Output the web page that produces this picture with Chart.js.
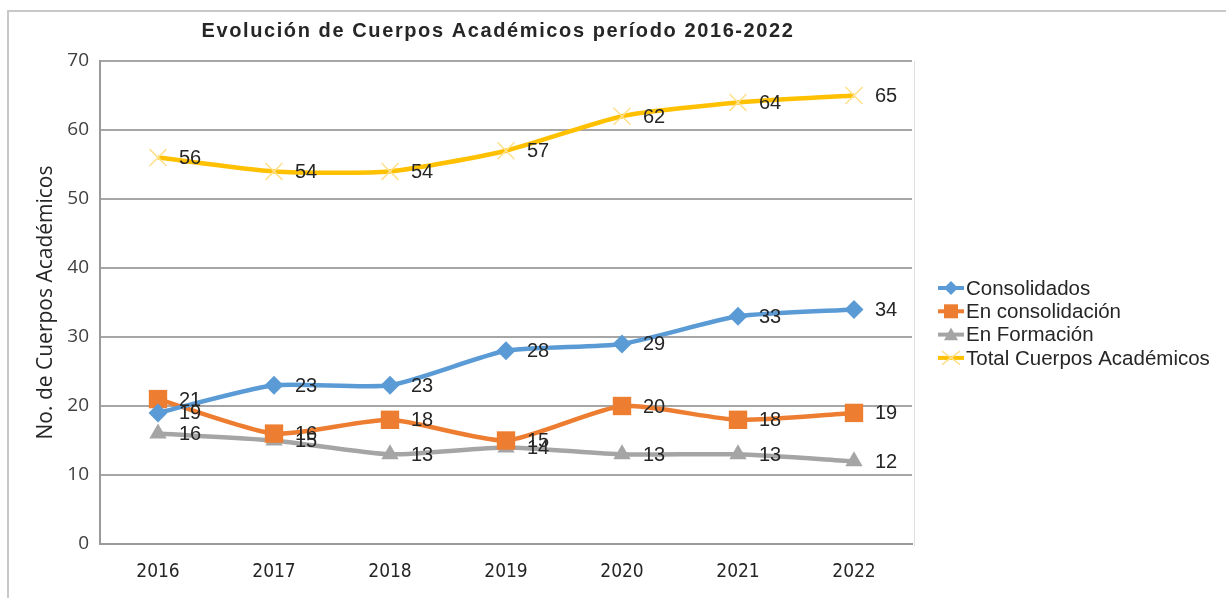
<!DOCTYPE html>
<html>
<head>
<meta charset="utf-8">
<script src="https://cdn.jsdelivr.net/npm/chart.js@4"></script>
<style>
html,body{margin:0;padding:0;background:#fff;}
#wrap{position:absolute;left:0;top:0;width:1226px;height:598px;}
</style>
</head>
<body>
<div id="wrap"><canvas id="c" width="1226" height="598"></canvas></div>
<script>
const years = ['2016', '2017', '2018', '2019', '2020', '2021', '2022'];
const consolidados = [19, 23, 23, 28, 29, 33, 34];
const enConsolidacion = [21, 16, 18, 15, 20, 18, 19];
const enFormacion = [16, 15, 13, 14, 13, 13, 12];
const totalCA = [56, 54, 54, 57, 62, 64, 65];
const seriesNames = ['Consolidados', 'En consolidación', 'En Formación', 'Total Cuerpos Académicos'];
const chartTitle = 'Evolución de Cuerpos Académicos período 2016-2022';
const yTitle = 'No. de Cuerpos Académicos';

const colors = ['#5B9BD5', '#ED7D31', '#A5A5A5', '#FFC000'];
const markerColors = ['#5B9BD5', '#ED7D31', '#A5A5A5', '#FFE08A'];
const styles = ['rectRot', 'rect', 'triangle', 'crossRot'];

function drawMarker(ctx, style, x, y, r, fill) {
  ctx.save();
  ctx.fillStyle = fill;
  ctx.strokeStyle = fill;
  ctx.beginPath();
  if (style === 'rectRot') {
    ctx.moveTo(x, y - r); ctx.lineTo(x + r, y); ctx.lineTo(x, y + r); ctx.lineTo(x - r, y); ctx.closePath(); ctx.fill();
  } else if (style === 'rect') {
    ctx.rect(x - r, y - r, 2 * r, 2 * r); ctx.fill();
  } else if (style === 'triangle') {
    ctx.moveTo(x, y - r); ctx.lineTo(x + r, y + r * 0.8); ctx.lineTo(x - r, y + r * 0.8); ctx.closePath(); ctx.fill();
  } else {
    ctx.lineWidth = 1.5;
    ctx.moveTo(x - r, y - r * 0.75); ctx.lineTo(x + r, y + r * 0.75);
    ctx.moveTo(x + r, y - r * 0.75); ctx.lineTo(x - r, y + r * 0.75);
    ctx.stroke();
  }
  ctx.restore();
}

const decor = {
  id: 'decor',
  beforeDraw(chart) {
    const ctx = chart.ctx;
    ctx.save();
    ctx.fillStyle = '#fff';
    ctx.fillRect(0, 0, chart.width, chart.height);
    ctx.strokeStyle = '#c8c8c8';
    ctx.lineWidth = 2;
    ctx.beginPath();
    ctx.moveTo(8, 598); ctx.lineTo(8, 11); ctx.lineTo(1226, 11);
    ctx.stroke();
    const a = chart.chartArea;
    ctx.strokeStyle = '#e0e0e0';
    ctx.lineWidth = 1;
    ctx.beginPath();
    ctx.moveTo(a.right + 2.5, a.top); ctx.lineTo(a.right + 2.5, a.bottom + 2);
    ctx.stroke();
    ctx.restore();
  },
  afterDatasetsDraw(chart) {
    const ctx = chart.ctx;
    ctx.save();
    ctx.font = '20px "Liberation Sans", Arial, sans-serif';
    ctx.fillStyle = '#262626';
    ctx.textAlign = 'left';
    ctx.textBaseline = 'middle';
    chart.data.datasets.forEach((ds, i) => {
      const meta = chart.getDatasetMeta(i);
      meta.data.forEach((pt, j) => {
        ctx.fillText(String(ds.data[j]), pt.x + 21, pt.y + 1);
      });
    });
    ctx.restore();
  },
  afterDraw(chart) {
    const ctx = chart.ctx;
    ctx.save();
    // title
    ctx.font = 'bold 20px "Liberation Sans", Arial, sans-serif';
    ctx.fillStyle = '#262626';
    ctx.textAlign = 'center';
    ctx.textBaseline = 'middle';
    try { ctx.letterSpacing = '1.6px'; } catch (e) {}
    ctx.fillText(chartTitle, 498, 31);
    try { ctx.letterSpacing = '0px'; } catch (e) {}
    // legend
    ctx.font = '20.5px "Liberation Sans", Arial, sans-serif';
    ctx.textAlign = 'left';
    ctx.fillStyle = '#262626';
    const y0 = 288, dy = 23.3;
    seriesNames.forEach((name, i) => {
      const y = y0 + i * dy;
      ctx.strokeStyle = colors[i];
      ctx.lineWidth = 4;
      ctx.beginPath(); ctx.moveTo(938, y); ctx.lineTo(964, y); ctx.stroke();
      drawMarker(ctx, styles[i], 951, y, i === 3 ? 9 : 7, markerColors[i]);
      ctx.fillStyle = '#262626';
      ctx.fillText(name, 966, y + 1);
    });
    ctx.restore();
  }
};

const seriesData = [consolidados, enConsolidacion, enFormacion, totalCA];
const radii = [9.5, 13, 10, 12];

new Chart(document.getElementById('c'), {
  type: 'line',
  data: {
    labels: years,
    datasets: seriesData.map((d, i) => ({
      label: seriesNames[i],
      data: d,
      borderColor: colors[i],
      backgroundColor: markerColors[i],
      pointBackgroundColor: markerColors[i],
      pointBorderColor: markerColors[i],
      pointBorderWidth: i === 3 ? 1.5 : 0,
      pointStyle: styles[i],
      pointRadius: radii[i],
      pointHoverRadius: radii[i],
      borderWidth: 4.5,
      tension: 0.2,
      fill: false
    }))
  },
  options: {
    responsive: false,
    animation: false,
    events: [],
    layout: { padding: { left: 8, right: 314, top: 61, bottom: 0 } },
    plugins: { legend: { display: false }, title: { display: false }, tooltip: { enabled: false } },
    scales: {
      x: {
        offset: true,
        grid: { display: false, drawTicks: false },
        border: { display: true, color: '#9a9a9a', width: 2 },
        ticks: {
          padding: 17,
          color: '#262626',
          font: { family: '"DejaVu Sans Condensed", "DejaVu Sans", sans-serif', size: 19 }
        },
        afterFit(s) { s.height = 54; }
      },
      y: {
        min: 0, max: 70,
        grid: { color: '#a6a6a6', lineWidth: 2, drawTicks: false },
        border: { display: true, color: '#9a9a9a', width: 2 },
        ticks: {
          stepSize: 10,
          padding: 11,
          color: '#404040',
          font: { family: '"Open Sans", sans-serif', size: 19 }
        },
        title: {
          display: true,
          text: yTitle,
          color: '#262626',
          padding: { top: 25, bottom: 0 },
          font: { family: '"Open Sans", sans-serif', size: 21 }
        },
        afterFit(s) { s.width = 92; }
      }
    }
  },
  plugins: [decor]
});
</script>
</body>
</html>
